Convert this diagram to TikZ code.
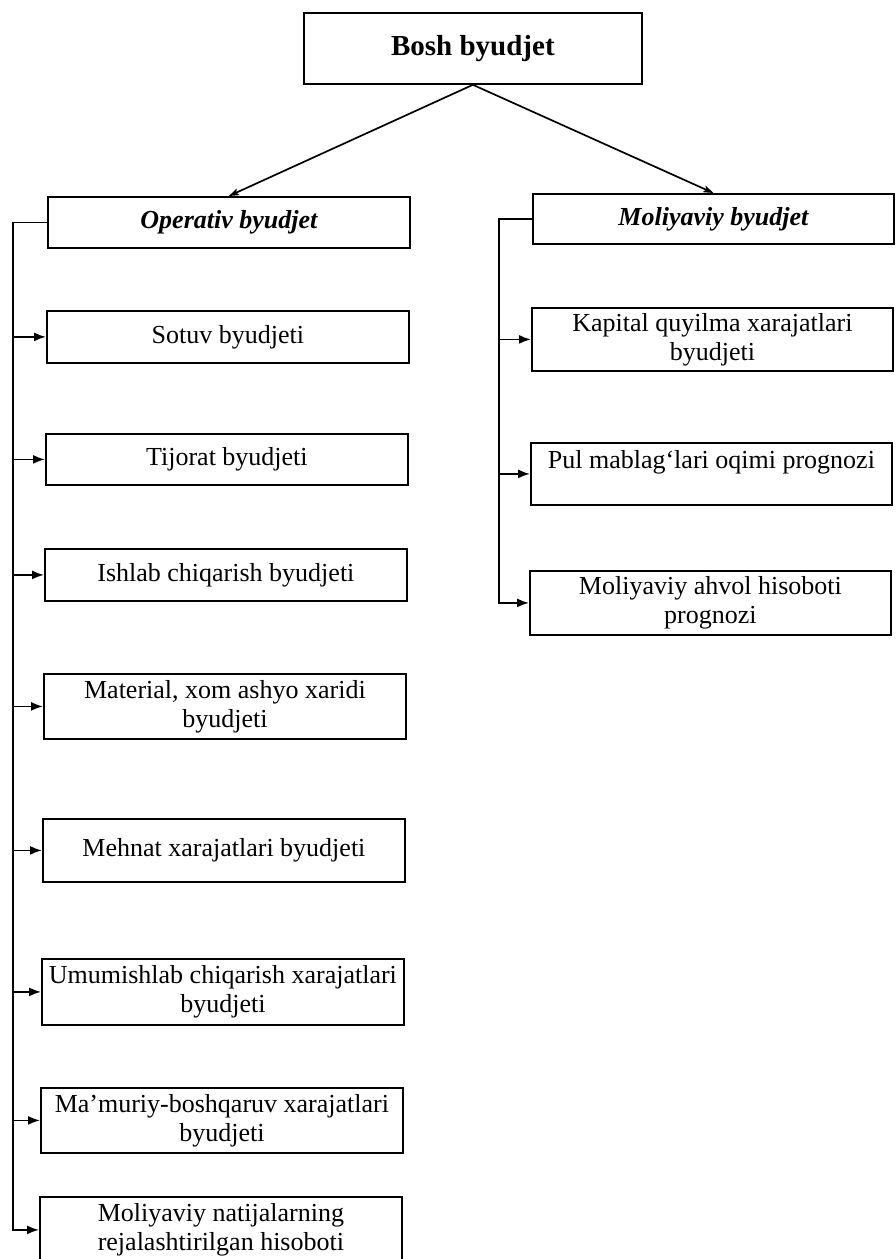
\documentclass[tikz,border=0pt]{standalone}
\usepackage{fontspec}
\setmainfont{Liberation Serif}
\usetikzlibrary{arrows.meta}
\begin{document}
\begin{tikzpicture}[x=1pt,y=-1pt,
  box/.style={draw, line width=1.8pt, anchor=north west, align=center, inner xsep=2pt, inner ysep=0pt,
     font=\fontsize{26}{29}\selectfont},
  lbox/.style={box, minimum width=362pt},
  rbox/.style={box, minimum width=361pt},
  conn/.style={line width=1.7pt},
  farr/.style={conn, -{Latex[length=12pt,width=9pt]}},
  tarr/.style={conn, -{Stealth[length=10pt,width=7pt,inset=2pt]}}
]
\useasboundingbox (0,0) rectangle (895,1259);
\clip (0,0) rectangle (895,1259);

\node[box, minimum width=338pt, minimum height=71pt, font=\fontsize{29}{33}\selectfont\bfseries] (top) at (303,12) {Bosh byudjet};

\node[lbox, minimum height=51pt, font=\fontsize{26}{29}\selectfont\bfseries\itshape] (op) at (47,196) {Operativ byudjet};
\node[rbox, minimum height=50pt, font=\fontsize{26}{29}\selectfont\bfseries\itshape] (mo) at (532,193) {Moliyaviy byudjet};

\node[lbox, minimum height=52pt] (s1) at (46,310) {Sotuv byudjeti};
\node[lbox, minimum height=51pt] (s2) at (45,433) {Tijorat byudjeti};
\node[lbox, minimum height=52pt] (s3) at (44,548) {Ishlab chiqarish byudjeti};
\node[lbox, minimum height=65pt] (s4) at (43,673) {Material, xom ashyo xaridi\\byudjeti};
\node[lbox, minimum height=63pt] (s5) at (42,818) {Mehnat xarajatlari byudjeti};
\node[lbox, minimum height=66pt] (s6) at (41,958) {Umumishlab chiqarish xarajatlari\\byudjeti};
\node[lbox, minimum height=65pt] (s7) at (40,1087) {Ma’muriy-boshqaruv xarajatlari\\byudjeti};
\node[lbox, minimum height=66pt] (s8) at (39,1196) {Moliyaviy natijalarning\\rejalashtirilgan hisoboti};

\node[rbox, minimum height=63pt] (r1) at (531,307) {Kapital quyilma xarajatlari\\byudjeti};
\node[rbox, minimum height=62pt] (r2) at (530,442) {Pul mablag‘lari oqimi prognozi\\\mbox{}};
\node[rbox, minimum height=64pt] (r3) at (529,570) {Moliyaviy ahvol hisoboti\\prognozi};

\coordinate (lb) at (13,0);
\coordinate (rb) at (499,0);

\draw[tarr] (top.south) -- (op.north);
\draw[tarr] (top.south) -- (mo.north);

\draw[farr] (op.west) -- (op.west -| lb) |- (s8.west);
\foreach \n in {s1,s2,s3,s4,s5,s6,s7}
  \draw[farr] (\n.west -| lb) -- (\n.west);

\draw[farr] (mo.west) -- (mo.west -| rb) |- (r3.west);
\foreach \n in {r1,r2}
  \draw[farr] (\n.west -| rb) -- (\n.west);
\end{tikzpicture}
\end{document}
